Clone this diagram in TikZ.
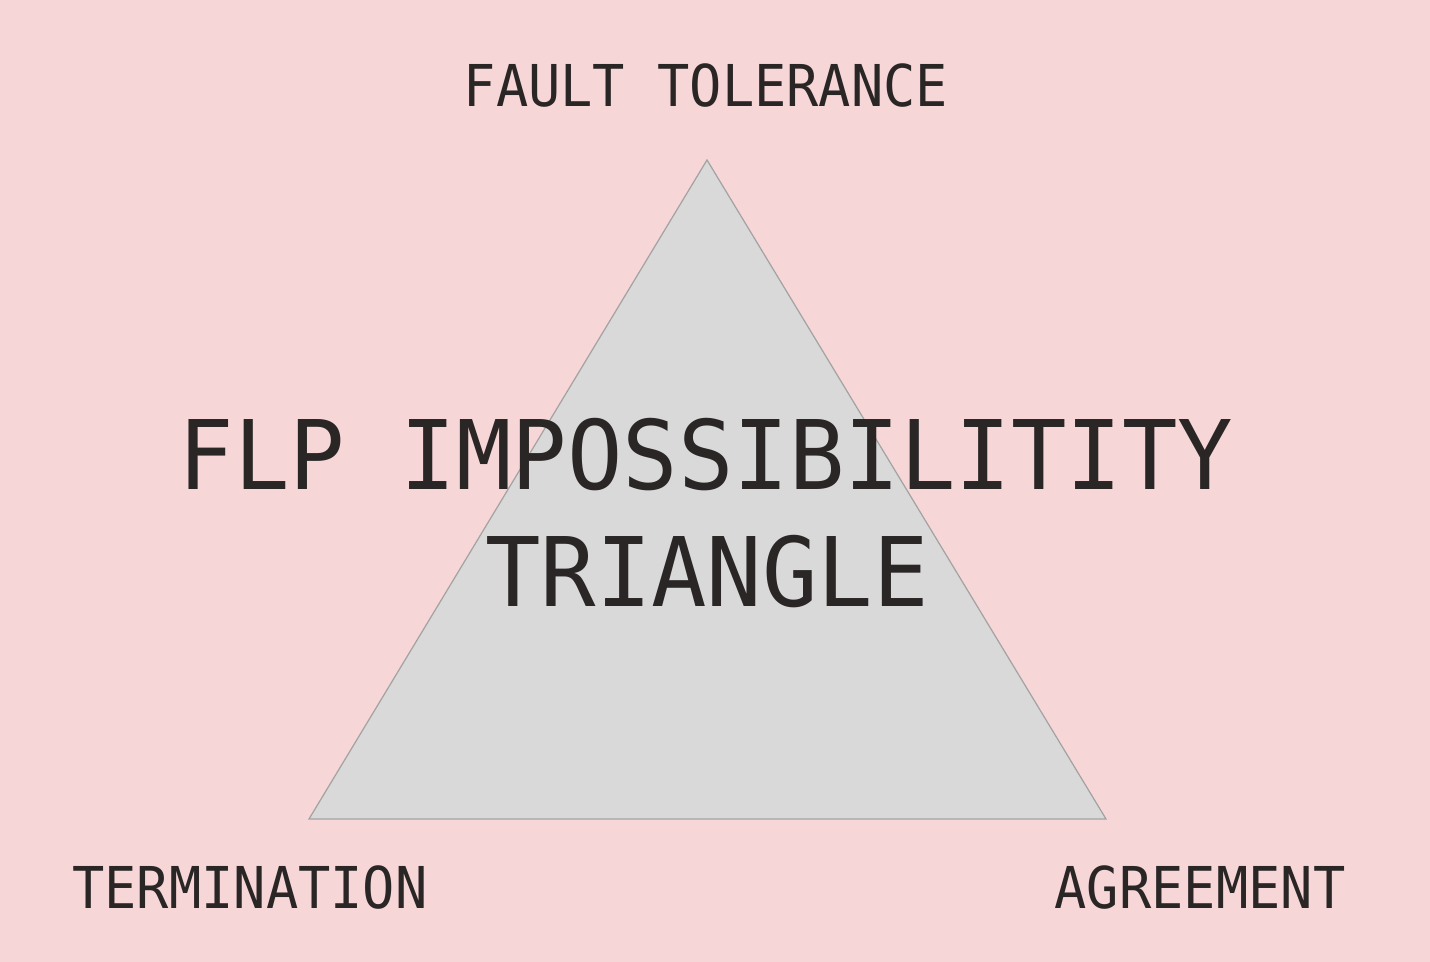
\documentclass[tikz,border=0pt]{standalone}
\usepackage{fontspec}
\newfontfamily\monofont{DejaVu Sans Mono}[FakeStretch=0.93]
\newfontfamily\titlefont{DejaVu Sans Mono}[FakeStretch=0.96]
\definecolor{bgpink}{HTML}{F7D6D7}
\definecolor{trifill}{HTML}{D9D9D9}
\definecolor{triline}{HTML}{A3A3A3}
\definecolor{txt}{HTML}{2A2626}
\tikzset{
  label text/.style={font=\monofont\fontsize{16.4pt}{18pt}\selectfont, text=txt, inner sep=0pt},
  title text/.style={font=\titlefont\fontsize{27.3pt}{30pt}\selectfont, text=txt, inner sep=0pt},
}
\begin{document}
\begin{tikzpicture}[x=0.01cm,y=-0.01cm]
\fill[bgpink] (0,0) rectangle (1430,962);
\useasboundingbox (0,0) rectangle (1430,962);
\coordinate (apex) at (707,160);
\coordinate (bl) at (309,819);
\coordinate (br) at (1106,819);
\filldraw[fill=trifill, draw=triline, line width=0.35pt] (apex) -- (bl) -- (br) -- cycle;
\node[label text] (ft) at (706,86) {FAULT TOLERANCE};
\node[label text] (term) at (250,888) {TERMINATION};
\node[label text] (agr) at (1200,888) {AGREEMENT};
\node[title text] (t1) at (706,455) {FLP IMPOSSIBILITITY};
\node[title text] (t2) at (707,572) {TRIANGLE};
\end{tikzpicture}
\end{document}
